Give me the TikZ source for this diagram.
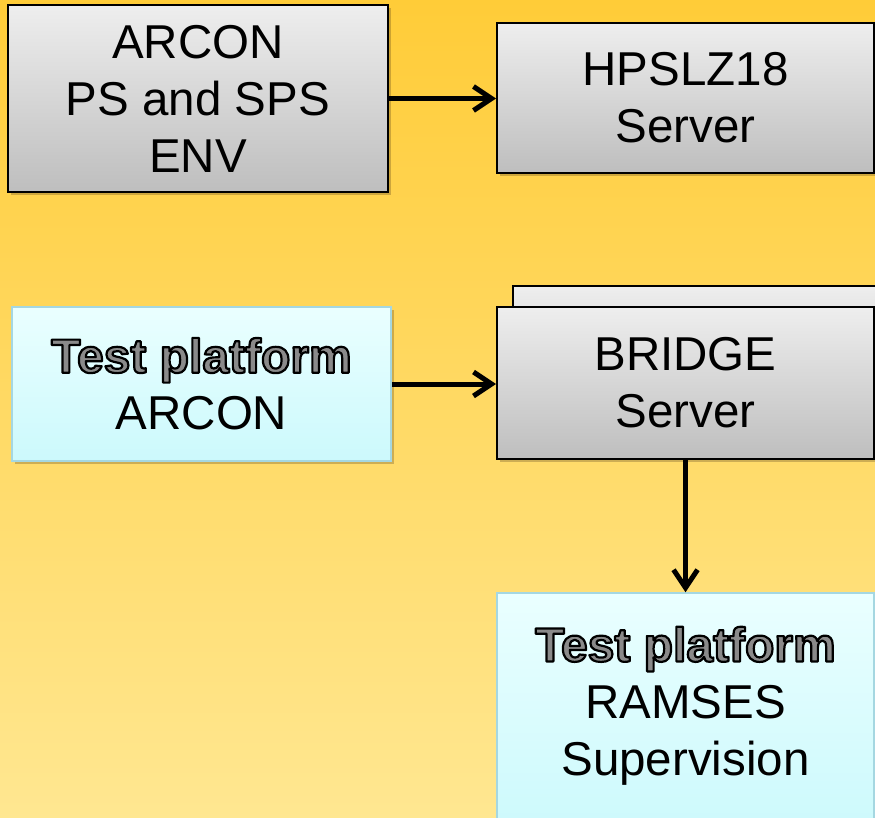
\documentclass[tikz,border=0pt]{standalone}
\usepackage{fontspec}
\setmainfont{Liberation Sans}
\usetikzlibrary{arrows.meta,shadows}
\definecolor{bgtop}{RGB}{255,204,56}
\definecolor{bgbot}{RGB}{255,231,145}
\definecolor{boxtop}{RGB}{238,238,238}
\definecolor{boxbot}{RGB}{190,190,190}
\definecolor{cyantop}{RGB}{234,255,255}
\definecolor{cyanbot}{RGB}{204,249,252}
\definecolor{cyanline}{RGB}{165,215,225}
\definecolor{tpgray}{RGB}{138,138,138}
\newcommand{\tptitle}{{\fontsize{48}{57}\selectfont\bfseries\textcolor{tpgray}{\special{pdf:literal direct 0 G 2.2 w 1 j 2 Tr}Test platform\special{pdf:literal direct 0 Tr 1 w}}}}
\begin{document}
\begin{tikzpicture}[x=1pt,y=-1pt,
  txt/.style={font=\fontsize{47.5}{57}\selectfont, align=center, text=black},
  graybox/.style={txt, draw=black, line width=2pt, top color=boxtop, bottom color=boxbot, inner sep=0pt,
    drop shadow={shadow xshift=3pt, shadow yshift=-3pt, opacity=0.25, fill=black!70!brown}},
  cyanbox/.style={txt, draw=cyanline, line width=1.5pt, top color=cyantop, bottom color=cyanbot, inner sep=0pt,
    drop shadow={shadow xshift=3pt, shadow yshift=-3pt, opacity=0.25, fill=black!70!brown}},
  arr/.style={line width=5pt, -{Straight Barb[length=18pt,width=24pt,line width=5pt]}}]
\useasboundingbox (0,0) rectangle (875,818);
\shade[top color=bgtop, bottom color=bgbot] (0,0) rectangle (875,818);

\node[graybox, minimum width=380pt, minimum height=187pt] (arcon) at (198,98.5)
  {ARCON\\PS and SPS\\ENV};
\node[graybox, minimum width=377pt, minimum height=150pt] (hps) at (685.5,98)
  {HPSLZ18\\Server};
\node[cyanbox, minimum width=379pt, minimum height=154pt] (tparcon) at (201.5,384)
  {\tptitle\\ARCON};
\node[graybox, minimum width=365pt, minimum height=134pt] (bridgeback) at (695.5,353) {};
\node[graybox, minimum width=377pt, minimum height=152pt] (bridge) at (685.5,383)
  {BRIDGE\\Server};
\node[cyanbox, minimum width=377pt, minimum height=240pt] (ramses) at (685.5,713) {};
\node[txt] (ramsestext) at (685.5,706) {\tptitle\\RAMSES\\Supervision};

\draw[arr] (arcon.east) -- (arcon.east -| hps.west);
\draw[arr] (tparcon.east) -- (tparcon.east -| bridge.west);
\draw[arr] (bridge.south) -- (ramses.north);
\end{tikzpicture}
\end{document}
